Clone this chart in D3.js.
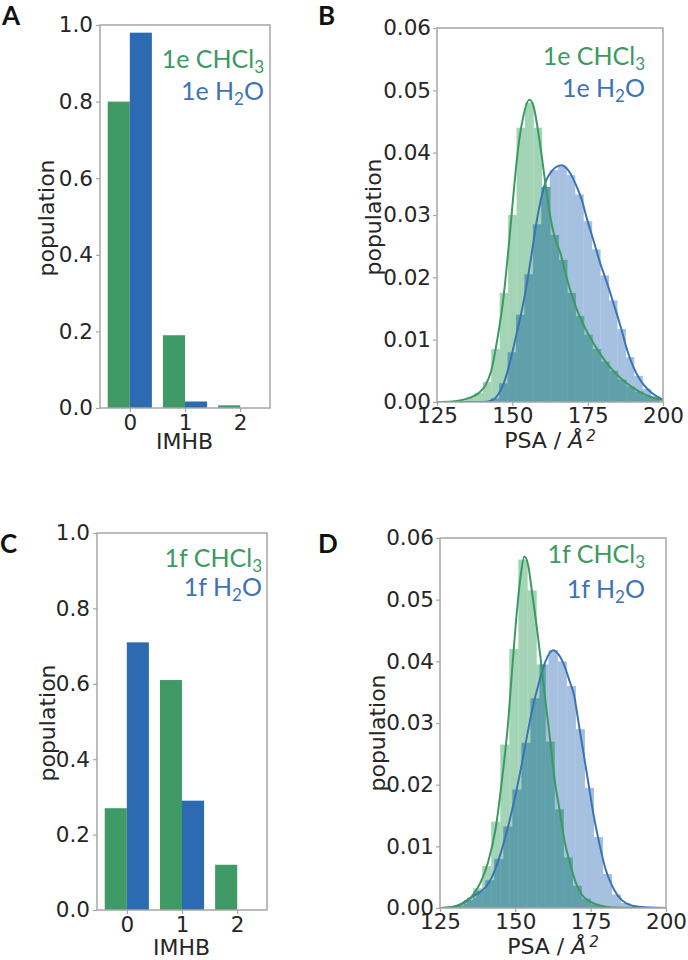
<!DOCTYPE html>
<html><head><meta charset="utf-8">
<script src="https://cdn.jsdelivr.net/npm/d3@7"></script>
<style>body{margin:0;background:#fff} svg{display:block}</style>
</head><body>
<script>
// ---------- DATA ----------
const imhbCategories = [0, 1, 2];
const eChcl3Pop = [0.80, 0.19, 0.007];
const eH2oPop   = [0.98, 0.017, 0.0];
const fChcl3Pop = [0.27, 0.61, 0.12];
const fH2oPop   = [0.71, 0.29, 0.0];
const popTicks  = [0, 0.2, 0.4, 0.6, 0.8, 1.0];
const psaTicks  = [125, 150, 175, 200];
const densTicks = [0, 0.01, 0.02, 0.03, 0.04, 0.05, 0.06];

// histograms (bin start, bin width, densities)
const eChcl3HistStart = 129, eChcl3HistWidth = 2.8;
const eChcl3Hist = [0.0001,0.0003,0.0007,0.0015,0.0032,0.0085,0.0175,0.0300,0.0440,0.0480,0.0440,0.0345,0.0268,0.0228,0.0175,0.0138,0.0108,0.0085,0.0065,0.0050,0.0036,0.0025,0.0017,0.0010,0.0005];
const eH2oHistStart = 140, eH2oHistWidth = 2.8;
const eH2oHist = [0.0001,0.0006,0.0030,0.0080,0.0140,0.0205,0.0285,0.0345,0.0372,0.0378,0.0364,0.0333,0.0290,0.0245,0.0203,0.0163,0.0117,0.0072,0.0042,0.0021,0.0009];
const fChcl3HistStart = 127, fChcl3HistWidth = 3.0;
const fChcl3Hist = [0.0001,0.0004,0.0013,0.0032,0.0068,0.0140,0.0265,0.0420,0.0565,0.0515,0.0395,0.0270,0.0160,0.0082,0.0036,0.0015,0.0006,0.0002];
const fH2oHistStart = 128, fH2oHistWidth = 3.0;
const fH2oHist = [0.0002,0.0007,0.0017,0.0028,0.0045,0.0080,0.0132,0.0192,0.0268,0.0340,0.0395,0.0418,0.0400,0.0360,0.0290,0.0195,0.0115,0.0055,0.0022,0.0008,0.0003];

// KDE curves
const eChcl3KdeX = [125,130,133,136,139,141,143,145,147,149,150.5,152,153.5,155.7,157,159,161,162.5,164,166,168,170.3,173,175.8,178.5,181.4,184.5,188,192,196,200];
const eChcl3KdeY = [0,0.0001,0.0003,0.0007,0.0015,0.0026,0.0050,0.0100,0.0165,0.0260,0.0340,0.0410,0.0455,0.0485,0.0475,0.0420,0.0350,0.0300,0.0265,0.0238,0.0200,0.0163,0.0130,0.0104,0.0082,0.0062,0.0045,0.0030,0.0017,0.0008,0.0003];
const eH2oKdeX = [125,140,143,145,147,149,150.5,152,153.5,155,156.8,158,159.5,161.2,163,164.5,166.4,168,170,171.4,173,174.7,177,179.2,181.5,183.6,186,188,190,192.5,195,197,199,200];
const eH2oKdeY = [0,0,0.0002,0.0010,0.0028,0.0060,0.0090,0.0122,0.0155,0.0195,0.0250,0.0288,0.0325,0.0355,0.0370,0.0377,0.0380,0.0375,0.0360,0.0345,0.0325,0.0295,0.0258,0.0222,0.0190,0.0158,0.0120,0.0085,0.0058,0.0035,0.0020,0.0012,0.0006,0.0004];
const fChcl3KdeX = [125,128,131,134,136.5,138.5,141,143.5,145.5,147.5,149,150.5,151.8,153,154.3,155.6,157,158.5,160,161.5,163,164.8,166.5,168,170,172,175,178,182,200];
const fChcl3KdeY = [0,0.0001,0.0004,0.0011,0.0025,0.0042,0.0075,0.0130,0.0205,0.0295,0.0390,0.0480,0.0540,0.0570,0.0555,0.0510,0.0460,0.0400,0.0335,0.0275,0.0210,0.0155,0.0105,0.0075,0.0042,0.0022,0.0010,0.0004,0.0001,0];
const fH2oKdeX = [125,128,131,134,137,140,142,144,146,148,150,152,154,156,158,160,162.5,164.5,166.5,168,169.5,171,172.5,174,176,178,180,182,184,187,191,200];
const fH2oKdeY = [0,0.0001,0.0004,0.0013,0.0022,0.0033,0.0048,0.0072,0.0103,0.0140,0.0182,0.0230,0.0282,0.0330,0.0368,0.0400,0.0418,0.0410,0.0390,0.0368,0.0345,0.0300,0.0255,0.0210,0.0150,0.0102,0.0062,0.0037,0.0020,0.0007,0.0002,0];

// ---------- STYLE ----------
const GREEN = "#3f9a66", BLUE = "#2c6bb2";
const GREEN_LINE = "#3a9a60", BLUE_LINE = "#3b74b6";
const GREEN_FILL = "#a4d4b6", BLUE_FILL = "#a6c1e0", OVERLAP_FILL = "#60a0aa";
const AXIS = "#a6a6a6", TXT = "#262626";
const TICK_FONT = "DejaVu Sans", LEG_FONT = "Lato";

const svg = d3.select("body").append("svg").attr("width", 688).attr("height", 960);
const defs = svg.append("defs");

function styleAxis(g) {
  g.select(".domain").remove();
  g.selectAll(".tick line").attr("stroke", AXIS).attr("stroke-width", 1.2);
  g.selectAll(".tick text").attr("fill", TXT).attr("font-family", TICK_FONT).attr("font-size", 21.5);
}

function frame(c) {
  svg.append("rect").attr("x", c.l).attr("y", c.t).attr("width", c.r - c.l).attr("height", c.b - c.t)
    .attr("fill", "none").attr("stroke", AXIS).attr("stroke-width", 1.5);
}

function legend(c, tag) {
  const t1 = svg.append("text").attr("x", c.legX).attr("y", c.leg1).attr("text-anchor", "end")
    .attr("font-family", LEG_FONT).attr("font-size", 25).attr("fill", GREEN_LINE);
  t1.append("tspan").text(tag + " CHCl");
  t1.append("tspan").attr("font-size", 17).attr("dy", 5).text("3");
  const t2 = svg.append("text").attr("x", c.legX).attr("y", c.leg2).attr("text-anchor", "end")
    .attr("font-family", LEG_FONT).attr("font-size", 25).attr("fill", BLUE_LINE);
  t2.append("tspan").text(tag + " H");
  t2.append("tspan").attr("font-size", 17).attr("dy", 5).text("2");
  t2.append("tspan").attr("dy", -5).text("O");
}

function yLabel(c) {
  svg.append("text").attr("transform", `translate(${c.ylx},${c.yly}) rotate(-90)`)
    .attr("text-anchor", "middle").attr("dominant-baseline", "central")
    .attr("font-family", TICK_FONT).attr("font-size", 22).attr("fill", TXT).text("population");
}

function letter(txt, x, y) {
  svg.append("text").attr("x", x).attr("y", y).attr("font-family", LEG_FONT).attr("font-weight", 700)
    .attr("font-size", 26).attr("fill", "#111").text(txt);
}

function barPanel(c, green, blue, tag) {
  const x = d3.scaleLinear().domain([-0.54, 2.54]).range([c.l, c.r]);
  const y = d3.scaleLinear().domain([0, 1]).range([c.b, c.t]);
  const bw = 0.4;
  svg.append("g").selectAll("rect").data(imhbCategories).join("rect")
    .attr("x", d => x(d - bw)).attr("width", x(bw) - x(0))
    .attr("y", (d, i) => y(green[i])).attr("height", (d, i) => y(0) - y(green[i]))
    .attr("fill", GREEN);
  svg.append("g").selectAll("rect").data(imhbCategories).join("rect")
    .attr("x", d => x(d)).attr("width", x(bw) - x(0))
    .attr("y", (d, i) => y(blue[i])).attr("height", (d, i) => y(0) - y(blue[i]))
    .attr("fill", BLUE);
  frame(c);
  svg.append("g").attr("transform", `translate(${c.l},0)`)
    .call(d3.axisLeft(y).tickValues(popTicks).tickFormat(d3.format(".1f")).tickSize(4).tickPadding(3))
    .call(styleAxis);
  const xa = svg.append("g").attr("transform", `translate(0,${c.b})`)
    .call(d3.axisBottom(x).tickValues(imhbCategories).tickFormat(d3.format("d")).tickSize(4).tickPadding(4))
    .call(styleAxis);
  xa.selectAll(".tick text").attr("dy", 0).attr("y", c.xtb - c.b);
  svg.append("text").attr("x", (c.l + c.r) / 2 - 0.5).attr("y", c.xlb).attr("text-anchor", "middle")
    .attr("font-family", TICK_FONT).attr("font-size", 22).attr("fill", TXT).text("IMHB");
  yLabel(c);
  legend(c, tag);
}

function histRects(sel, s, x, y) {
  return sel.selectAll("rect").data(s.hist).join("rect")
    .attr("x", (d, i) => x(s.start + i * s.width))
    .attr("width", x(s.start + s.width) - x(s.start) + 0.3)
    .attr("y", d => y(d)).attr("height", d => y(0) - y(d));
}

function distPanel(c, blueS, greenS, tag, id) {
  const x = d3.scaleLinear().domain([125, 200]).range([c.l, c.r]);
  const y = d3.scaleLinear().domain([0, 0.06]).range([c.b, c.t]);
  defs.append("clipPath").attr("id", id).append("rect")
    .attr("x", c.l).attr("y", c.t).attr("width", c.r - c.l).attr("height", c.b - c.t);
  histRects(defs.append("clipPath").attr("id", id + "-blue"), blueS, x, y);
  const area = svg.append("g").attr("clip-path", `url(#${id})`);
  histRects(area.append("g"), blueS, x, y).attr("fill", BLUE_FILL);
  histRects(area.append("g"), greenS, x, y).attr("fill", GREEN_FILL);
  histRects(area.append("g").attr("clip-path", `url(#${id}-blue)`), greenS, x, y).attr("fill", OVERLAP_FILL);
  [blueS, greenS].forEach(s => {
    const pts = s.kx.map((v, i) => [v, s.ky[i]]);
    area.append("path").datum(pts)
      .attr("d", d3.line().x(d => x(d[0])).y(d => y(d[1])).curve(d3.curveMonotoneX))
      .attr("fill", "none").attr("stroke", s.line).attr("stroke-width", 2);
  });
  frame(c);
  svg.append("g").attr("transform", `translate(${c.l},0)`)
    .call(d3.axisLeft(y).tickValues(densTicks).tickFormat(d3.format(".2f")).tickSize(4).tickPadding(2))
    .call(styleAxis);
  const xa = svg.append("g").attr("transform", `translate(0,${c.b})`)
    .call(d3.axisBottom(x).tickValues(psaTicks).tickFormat(d3.format("d")).tickSize(4).tickPadding(4))
    .call(styleAxis);
  xa.selectAll(".tick text").attr("dy", 0).attr("y", c.xtb - c.b);
  const xl = svg.append("text").attr("x", (c.l + c.r) / 2).attr("y", c.xlb).attr("text-anchor", "middle")
    .attr("font-family", TICK_FONT).attr("font-size", 22).attr("fill", TXT);
  xl.append("tspan").text("PSA / ");
  xl.append("tspan").attr("font-style", "italic").text("Å");
  xl.append("tspan").attr("font-style", "italic").attr("font-size", 15).attr("dx", 3).attr("dy", -7).text("2");
  yLabel(c);
  legend(c, tag);
}

// ---------- PANELS ----------
barPanel({l: 100, r: 270, t: 25, b: 408, xtb: 430, xlb: 449, ylx: 46, yly: 218, legX: 264, leg1: 68, leg2: 100},
  eChcl3Pop, eH2oPop, "1e");
barPanel({l: 97, r: 267, t: 533, b: 910, xtb: 932, xlb: 955, ylx: 47, yly: 723, legX: 262, leg1: 567, leg2: 596},
  fChcl3Pop, fH2oPop, "1f");

distPanel({l: 437, r: 663, t: 28, b: 402, xtb: 423, xlb: 448, ylx: 373, yly: 217, legX: 645, leg1: 65, leg2: 97},
  {hist: eH2oHist, start: eH2oHistStart, width: eH2oHistWidth, line: BLUE_LINE, kx: eH2oKdeX, ky: eH2oKdeY},
  {hist: eChcl3Hist, start: eChcl3HistStart, width: eChcl3HistWidth, line: GREEN_LINE, kx: eChcl3KdeX, ky: eChcl3KdeY},
  "1e", "clipB");
distPanel({l: 440, r: 666, t: 538, b: 908, xtb: 929, xlb: 954, ylx: 377, yly: 733, legX: 645, leg1: 563, leg2: 598},
  {hist: fH2oHist, start: fH2oHistStart, width: fH2oHistWidth, line: BLUE_LINE, kx: fH2oKdeX, ky: fH2oKdeY},
  {hist: fChcl3Hist, start: fChcl3HistStart, width: fChcl3HistWidth, line: GREEN_LINE, kx: fChcl3KdeX, ky: fChcl3KdeY},
  "1f", "clipD");

letter("A", 2, 25);
letter("B", 318, 25);
letter("C", 0, 553);
letter("D", 318, 553);
</script>
</body></html>
